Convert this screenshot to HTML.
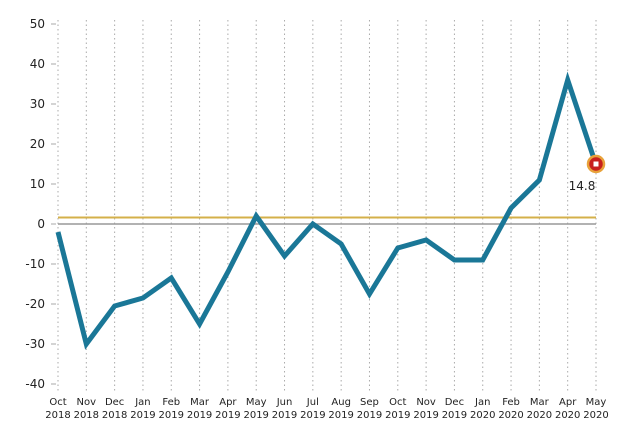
<!DOCTYPE html>
<html><head><meta charset="utf-8"><style>body{margin:0;background:#fff}svg{display:block}text{font-family:"DejaVu Sans","Liberation Sans",sans-serif;fill:#222}</style></head><body>
<svg width="640" height="421" viewBox="0 0 640 421">
<g id="grid" stroke="#aaa" stroke-width="1" stroke-dasharray="1.5,3"></g>
<g id="yl" font-size="12" text-anchor="end"></g>
<line x1="58" y1="224" x2="596" y2="224" stroke="#999" stroke-width="1.5"/>
<line x1="58" y1="217.5" x2="596" y2="217.5" stroke="#d4b04a" stroke-width="2"/>
<polyline id="pl" fill="none" stroke="#1a7797" stroke-width="5" stroke-linejoin="miter"/>
<circle cx="596" cy="164" r="8" fill="#c8201d" stroke="#e8a23a" stroke-width="2.5"/>
<rect x="593.5" y="161.5" width="5" height="5" fill="#fff"/>
<text x="582" y="190" font-size="12" text-anchor="middle">14.8</text>
<g id="xl" font-size="10" text-anchor="middle"></g>
</svg>
<script>
var d=[-2,-30,-20.5,-18.5,-13.5,-25,-12,2,-8,0,-5,-17.5,-6,-4,-9,-9,4,11,36,14.8];
var m=["Oct","Nov","Dec","Jan","Feb","Mar","Apr","May","Jun","Jul","Aug","Sep","Oct","Nov","Dec","Jan","Feb","Mar","Apr","May"];
var yr=["2018","2018","2018","2019","2019","2019","2019","2019","2019","2019","2019","2019","2019","2019","2019","2020","2020","2020","2020","2020"];
var ns="http://www.w3.org/2000/svg",X=i=>58+i*(538/19),Y=v=>224-v*4;
var g=document.getElementById("grid"),xl=document.getElementById("xl"),yl=document.getElementById("yl"),pts=[];
function el(p,t,a,tx){var e=document.createElementNS(ns,t);for(var k in a)e.setAttribute(k,a[k]);if(tx!==undefined)e.textContent=String(tx);p.appendChild(e);}
d.forEach((v,i)=>{var x=X(i);el(g,"line",{x1:x,y1:20,x2:x,y2:392});pts.push(x+","+Y(v));
el(xl,"text",{x:x,y:405},m[i]);el(xl,"text",{x:x,y:418},yr[i]);});
for(var v=50;v>=-40;v-=10){el(yl,"text",{x:45,y:Y(v)+4},v);el(g,"line",{x1:51,y1:Y(v),x2:56,y2:Y(v),"stroke-dasharray":"none"});}
document.getElementById("pl").setAttribute("points",pts.join(" "));
</script>
</body></html>
